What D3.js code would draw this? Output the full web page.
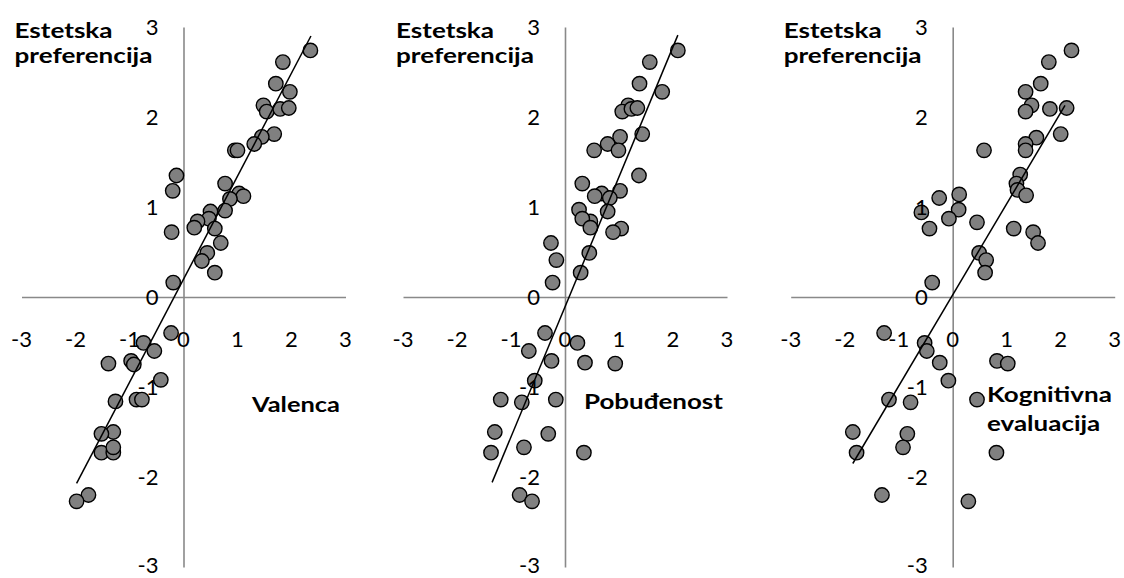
<!DOCTYPE html>
<html><head><meta charset="utf-8">
<script src="https://cdn.jsdelivr.net/npm/d3@7"></script>
<style>body{margin:0;background:#fff} svg{display:block;background:#fff}</style>
</head><body>
<svg id="chart" width="1124" height="578"></svg>
<script>
// ---------- data ----------
const tickValues = [-3, -2, -1, 0, 1, 2, 3];
const tickLabels = ["-3", "-2", "-1", "0", "1", "2", "3"];
const yTitleLines = ["Estetska", "preferencija"];
const xTitles = [["Valenca"], ["Pobuđenost"], ["Kognitivna", "evaluacija"]];

const valencaX = [2.35, 1.84, 1.71, 1.97, 1.48, 1.54, 1.79, 1.95, 1.68, 1.45, 1.31, 0.95, 1.00, -0.13, -0.20, 0.77, 1.03, 1.11, 0.86, 0.50, 0.77, 0.47, 0.26, 0.20, 0.58, -0.22, 0.69, 0.44, 0.34, 0.58, -0.19,
  -0.23, -0.74, -0.54, -1.39, -0.97, -0.92, -0.42, -1.26, -0.87, -0.77, -1.30, -1.52, -1.52, -1.30, -1.30, -1.76, -1.98];
const valencaY = [2.74, 2.61, 2.37, 2.28, 2.13, 2.06, 2.09, 2.10, 1.81, 1.78, 1.70, 1.63, 1.63, 1.35, 1.18, 1.26, 1.15, 1.12, 1.09, 0.95, 0.96, 0.87, 0.84, 0.77, 0.76, 0.72, 0.60, 0.49, 0.40, 0.27, 0.16,
  -0.40, -0.51, -0.60, -0.74, -0.71, -0.75, -0.92, -1.16, -1.14, -1.14, -1.50, -1.52, -1.73, -1.73, -1.67, -2.20, -2.27];
const valencaTrend = [[-1.98, -2.07], [2.36, 2.90]];

const pobudjenostX = [2.09, 1.57, 1.38, 1.80, 1.17, 1.06, 1.23, 1.34, 1.43, 1.02, 0.79, 0.54, 0.99, 1.37, 1.02, 0.32, 0.68, 0.55, 0.83, 0.26, 0.79, 0.47, 0.32, 0.47, 1.04, 0.89, -0.26, -0.16, 0.45, 0.29, -0.23,
  -0.37, 0.23, -0.67, -0.25, 0.37, 0.93, -0.56, -1.19, -0.80, -0.17, -1.30, -0.31, -1.37, -0.76, 0.35, -0.84, -0.61];
const pobudjenostY = [2.74, 2.61, 2.37, 2.28, 2.13, 2.06, 2.09, 2.10, 1.81, 1.78, 1.70, 1.63, 1.63, 1.35, 1.18, 1.26, 1.15, 1.12, 1.10, 0.97, 0.95, 0.84, 0.87, 0.77, 0.76, 0.72, 0.60, 0.41, 0.49, 0.27, 0.16,
  -0.40, -0.51, -0.60, -0.71, -0.73, -0.74, -0.93, -1.14, -1.17, -1.14, -1.50, -1.52, -1.73, -1.67, -1.73, -2.20, -2.27];
const pobudjenostTrend = [[-1.35, -2.06], [2.09, 2.91]];

const kognitivnaX = [2.20, 1.78, 1.63, 1.35, 1.46, 1.35, 1.80, 2.11, 2.00, 1.55, 1.35, 0.58, 1.35, 1.25, 1.18, 1.20, 1.36, 0.12, -0.25, -0.58, 0.11, -0.07, 0.45, -0.43, 1.13, 1.49, 1.58, 0.49, 0.62, 0.60, -0.38,
  -1.27, -0.52, -0.48, -0.24, 0.82, 1.02, -0.08, -1.18, -0.78, 0.45, -1.85, -0.84, -1.78, -0.92, 0.81, -1.31, 0.29];
const kognitivnaY = [2.74, 2.61, 2.37, 2.28, 2.13, 2.06, 2.09, 2.10, 1.81, 1.77, 1.70, 1.63, 1.63, 1.36, 1.26, 1.19, 1.13, 1.14, 1.10, 0.94, 0.97, 0.87, 0.83, 0.76, 0.76, 0.72, 0.60, 0.49, 0.41, 0.27, 0.16,
  -0.40, -0.51, -0.60, -0.73, -0.71, -0.74, -0.93, -1.14, -1.17, -1.14, -1.50, -1.52, -1.73, -1.67, -1.73, -2.20, -2.27];
const kognitivnaTrend = [[-1.85, -1.85], [2.08, 2.13]];

// ---------- layout / style ----------
const FONT = "Lato, 'Open Sans', 'Liberation Sans', sans-serif";
const FS = 20.5;
const panels = [
  { xs: valencaX, ys: valencaY, trend: valencaTrend, title: xTitles[0], titleW: 88, px: [21.5, 345.5], titleX: 252, titleY: 412 },
  { xs: pobudjenostX, ys: pobudjenostY, trend: pobudjenostTrend, title: xTitles[1], titleW: 139, px: [403, 727], titleX: 584, titleY: 409 },
  { xs: kognitivnaX, ys: kognitivnaY, trend: kognitivnaTrend, title: xTitles[2], titleW: 125, px: [790.7, 1114.7], titleX: 987, titleY: 402 }
];
const yTitleW = 138;            // width of the widest line of the y title in the reference
const tickMinusW = 21;          // width of a "-3" label in the reference
const yRange = [567, 27];

const svg = d3.select("#chart");
svg.append("rect").attr("width", 1124).attr("height", 578).attr("fill", "#fff");

// multi-line bold label as ONE text element with tspans, stretched to a target width
function multiLine(g, lines, x0, y0, lineGap, targetW) {
  const t = g.append("text")
    .attr("font-family", FONT).attr("font-size", FS).attr("font-weight", "bold")
    .attr("fill", "#000");
  t.selectAll("tspan").data(lines).join("tspan")
    .attr("x", 0).attr("y", (d, i) => i * lineGap).text(d => d);
  let w = 0;
  t.selectAll("tspan").each(function () { w = Math.max(w, this.getComputedTextLength()); });
  const f = w > 0 ? targetW / w : 1;
  t.attr("transform", `translate(${x0},${y0}) scale(${f},1)`);
  return t;
}

// measure the tick font once to get a horizontal stretch factor
const probe = svg.append("text").attr("font-family", FONT).attr("font-size", FS).text("-3");
const tickStretch = tickMinusW / probe.node().getComputedTextLength();
probe.remove();
function stretch(sel) {
  sel.each(function () {
    const w = this.getComputedTextLength();
    d3.select(this).attr("textLength", w * tickStretch).attr("lengthAdjust", "spacingAndGlyphs");
  });
}

panels.forEach(p => {
  const x = d3.scaleLinear().domain([-3, 3]).range(p.px);
  const y = d3.scaleLinear().domain([-3, 3]).range(yRange);
  const g = svg.append("g");

  // axis lines crossing at 0 (no tick marks)
  const xAxis = d3.axisBottom(x).tickValues([]).tickSize(0).tickSizeOuter(0);
  const yAxis = d3.axisLeft(y).tickValues([]).tickSize(0).tickSizeOuter(0);
  const gx = g.append("g").attr("transform", `translate(0,${y(0)})`).call(xAxis);
  const gy = g.append("g").attr("transform", `translate(${x(0)},0)`).call(yAxis);
  [gx, gy].forEach(a => a.select(".domain").attr("stroke", "#898989").attr("stroke-width", 1.6));

  // points
  const pts = p.xs.map((v, i) => [v, p.ys[i]]);
  g.append("g").selectAll("circle").data(pts).join("circle")
    .attr("cx", d => x(d[0])).attr("cy", d => y(d[1])).attr("r", 7.2)
    .attr("fill", "#808080").attr("stroke", "#000").attr("stroke-width", 1.4);

  // linear trend line
  g.append("path").datum(p.trend)
    .attr("d", d3.line().x(d => x(d[0])).y(d => y(d[1])))
    .attr("fill", "none").attr("stroke", "#000").attr("stroke-width", 1.5);

  // x tick labels
  g.append("g").selectAll("text").data(tickValues).join("text")
    .attr("x", d => x(d)).attr("y", y(0) + 50)
    .attr("text-anchor", "middle").attr("font-family", FONT).attr("font-size", FS)
    .attr("fill", "#000").text((d, i) => tickLabels[i])
    .call(stretch);
  // y tick labels
  g.append("g").selectAll("text").data(tickValues).join("text")
    .attr("x", x(0) - 25).attr("y", d => Math.min(y(d) + 8, 573))
    .attr("text-anchor", "end").attr("font-family", FONT).attr("font-size", FS)
    .attr("fill", "#000").text((d, i) => tickLabels[i])
    .call(stretch);

  // y title (two lines, one text element)
  multiLine(g, yTitleLines, p.px[0] - 7, 38, 24.8, yTitleW);
  // x title
  multiLine(g, p.title, p.titleX, p.titleY, 29, p.titleW);
});
</script>
</body></html>
